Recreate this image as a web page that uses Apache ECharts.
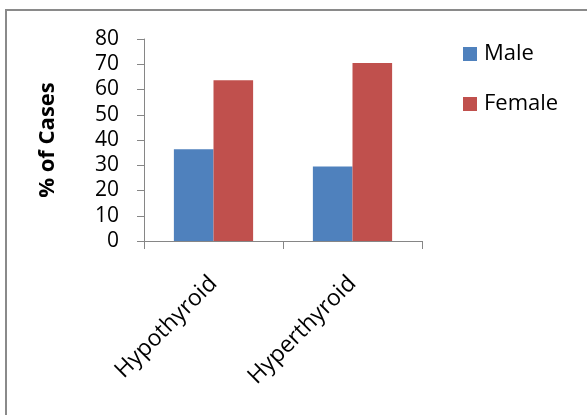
<!DOCTYPE html>
<html>
<head>
<meta charset="utf-8">
<script src="https://cdn.jsdelivr.net/npm/echarts@6/dist/echarts.min.js"></script>
<style>
html,body{margin:0;padding:0;background:#fff;}
#chart{width:587px;height:415px;}
</style>
</head>
<body>
<div id="chart"></div>
<script>
var categories = ['Hypothyroid', 'Hyperthyroid'];
var maleValues = [36.3, 29.5];
var femaleValues = [63.7, 70.5];
var seriesNames = ['Male', 'Female'];
var yAxisTitle = '% of Cases';

var chart = echarts.init(document.getElementById('chart'));
var font = '"Open Sans", sans-serif';
chart.setOption({
  animation: false,
  backgroundColor: '#fff',
  graphic: [{
    type: 'rect',
    shape: { x: 6, y: 10, width: 620, height: 440 },
    style: { fill: 'none', stroke: '#8a8a8a', lineWidth: 2 },
    silent: true
  }],
  grid: { left: 144, right: 165, top: 39, bottom: 174 },
  legend: {
    orient: 'vertical',
    left: 463,
    top: 43,
    padding: 0,
    itemWidth: 14,
    itemHeight: 14,
    itemGap: 28,
    icon: 'rect',
    textStyle: { fontFamily: font, fontSize: 22, color: '#000', lineHeight: 22, padding: [0, 0, 0, 2] },
    data: seriesNames
  },
  xAxis: {
    type: 'category',
    data: categories,
    axisLine: { lineStyle: { color: '#868686', width: 1 } },
    axisTick: { show: true, length: 8, alignWithLabel: false, lineStyle: { color: '#868686' } },
    axisLabel: { rotate: 45, margin: 39, fontFamily: font, fontSize: 23, color: '#000' }
  },
  yAxis: {
    type: 'value',
    min: 0,
    max: 80,
    interval: 10,
    name: yAxisTitle,
    nameLocation: 'middle',
    nameRotate: 90,
    nameGap: 85,
    nameTextStyle: { fontFamily: font, fontSize: 22, fontWeight: 'bold', color: '#000' },
    axisLine: { show: true, lineStyle: { color: '#868686', width: 1 } },
    axisTick: { show: true, length: 7, lineStyle: { color: '#868686' } },
    splitLine: { show: false },
    axisLabel: { margin: 25, fontFamily: font, fontSize: 21, color: '#000' }
  },
  series: [
    { name: seriesNames[0], type: 'bar', data: maleValues, barGap: '0%', barCategoryGap: '43%',
      itemStyle: { color: '#4F81BD' } },
    { name: seriesNames[1], type: 'bar', data: femaleValues, barGap: '0%', barCategoryGap: '43%',
      itemStyle: { color: '#C0504D' } }
  ]
});
</script>
</body>
</html>
